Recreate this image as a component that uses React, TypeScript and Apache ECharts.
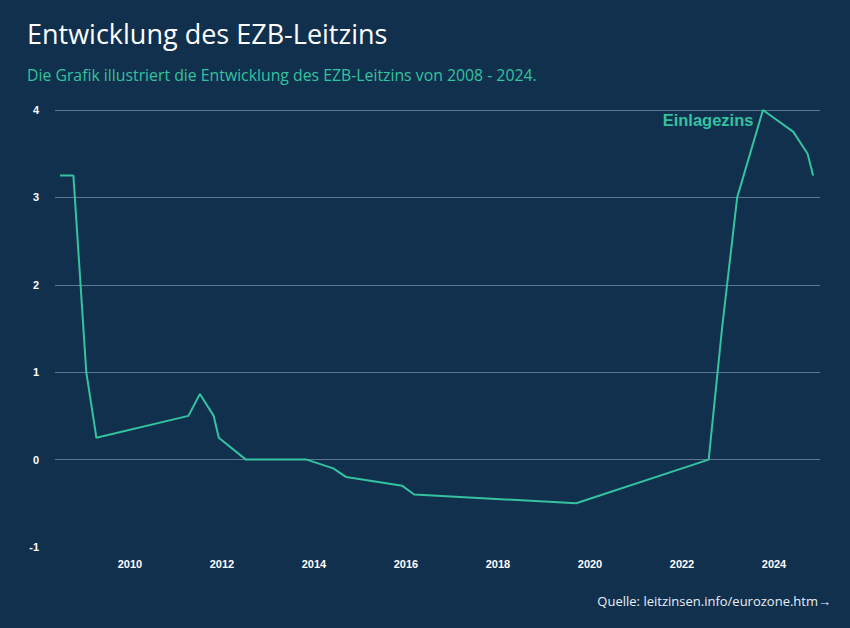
import React, { useEffect, useRef } from "react";
import * as echarts from "echarts";

const titleText = "Entwicklung des EZB-Leitzins";
const subtitleText = "Die Grafik illustriert die Entwicklung des EZB-Leitzins von 2008 - 2024.";
const sourceText = "Quelle: leitzinsen.info/eurozone.htm→";
const seriesName = "Einlagezins";

// decimal years of rate changes
const dates = [
  2008.48, 2008.77, 2009.05, 2009.27, 2011.27, 2011.52, 2011.82, 2011.93,
  2012.52, 2013.84, 2014.42, 2014.7, 2015.92, 2016.18, 2019.7, 2022.58,
  2022.87, 2023.2, 2023.76, 2024.42, 2024.73, 2024.85,
];
const rates = [
  3.25, 3.25, 1.0, 0.25, 0.5, 0.75, 0.5, 0.25,
  0, 0, -0.1, -0.2, -0.3, -0.4, -0.5, 0,
  1.5, 3.0, 4.0, 3.75, 3.5, 3.25,
];
const xTickYears = [2010, 2012, 2014, 2016, 2018, 2020, 2022, 2024];
const peakIndex = 18;

const BG = "#11304e";
const TEAL = "#34c29f";
const GRID = "#5b7893";

export default function App() {
  const ref = useRef<HTMLDivElement>(null);
  useEffect(() => {
    if (!ref.current) return;
    const chart = echarts.init(ref.current, undefined, { renderer: "svg" });
    const data = dates.map((d, i) => [d, rates[i]]);
    chart.setOption({
      animation: false,
      backgroundColor: BG,
      title: [
        {
          text: titleText,
          left: 22,
          top: 15,
          textStyle: {
            color: "#ffffff",
            fontSize: 27,
            fontWeight: "normal",
            fontFamily: "Open Sans, sans-serif",
          },
        },
        {
          text: subtitleText,
          left: 22,
          top: 62,
          textStyle: {
            color: TEAL,
            fontSize: 15.8,
            fontWeight: "normal",
            fontFamily: "Open Sans, sans-serif",
          },
        },
        {
          text: sourceText,
          right: 14,
          top: 589,
          textStyle: {
            color: "#e8eef4",
            fontSize: 13,
            fontWeight: "normal",
            fontFamily: "Open Sans, sans-serif",
          },
        },
      ],
      grid: { left: 55, right: 30, top: 110, bottom: 81, containLabel: false },
      xAxis: {
        type: "value",
        min: 2008.37,
        max: 2025.0,
        axisLine: { show: false },
        axisTick: { show: false },
        splitLine: { show: false },
        axisLabel: {
          customValues: xTickYears,
          formatter: (v: number) => String(Math.round(v)),
          color: "#ffffff",
          fontSize: 11,
          fontWeight: "bold",
          fontFamily: "Liberation Sans, Arial, sans-serif",
          margin: 11,
        },
      },
      yAxis: {
        type: "value",
        min: -1,
        max: 4,
        interval: 1,
        axisLine: { show: false },
        axisTick: { show: false },
        splitLine: {
          show: true,
          lineStyle: {
            color: ["rgba(0,0,0,0)", GRID, GRID, GRID, GRID, GRID],
            width: 1,
          },
        },
        axisLabel: {
          color: "#ffffff",
          fontSize: 11,
          fontWeight: "bold",
          fontFamily: "Liberation Sans, Arial, sans-serif",
          margin: 16,
        },
      },
      series: [
        {
          name: seriesName,
          type: "line",
          data,
          showSymbol: false,
          symbol: "none",
          lineStyle: { color: TEAL, width: 2 },
          itemStyle: { color: TEAL },
          markPoint: {
            symbol: "circle",
            symbolSize: 1,
            itemStyle: { color: "rgba(0,0,0,0)" },
            data: [
              {
                coord: [dates[peakIndex], rates[peakIndex]],
                label: {
                  show: true,
                  formatter: seriesName,
                  position: "left",
                  distance: 9,
                  offset: [0, 10],
                  color: TEAL,
                  fontSize: 16.5,
                  fontWeight: "bold",
                  fontFamily: "Liberation Sans, Arial, sans-serif",
                },
              },
            ],
          },
        },
      ],
    });
    return () => chart.dispose();
  }, []);
  return (
    <div
      ref={ref}
      style={{ position: "fixed", left: 0, top: 0, width: 850, height: 628 }}
    />
  );
}
